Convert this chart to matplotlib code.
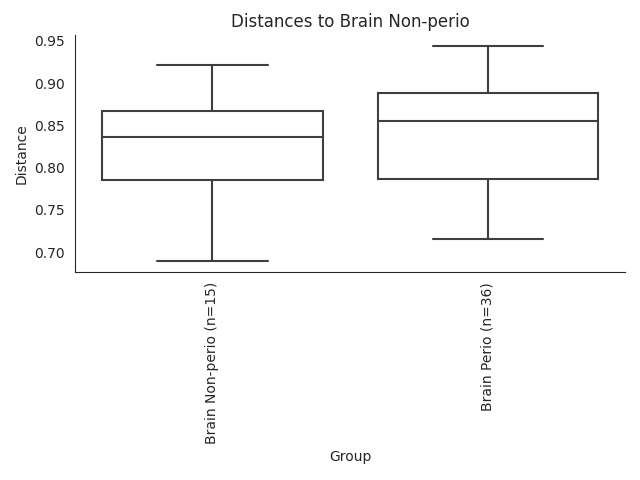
import matplotlib
matplotlib.use("Agg")
import matplotlib.pyplot as plt
import seaborn as sns

# box statistics
groups = ["Brain Non-perio (n=15)", "Brain Perio (n=36)"]
whislo = [0.689, 0.715]
q1 = [0.785, 0.786]
med = [0.836, 0.855]
q3 = [0.867, 0.888]
whishi = [0.921, 0.944]

sns.set_style("white")

fig, ax = plt.subplots(figsize=(6.4, 4.8), dpi=100)

stats = []
for i in range(len(groups)):
    stats.append(dict(label=groups[i], whislo=whislo[i], q1=q1[i], med=med[i],
                      q3=q3[i], whishi=whishi[i], fliers=[]))

line_col = "#3f3f3f"
ax.bxp(stats, positions=range(len(groups)), widths=0.8, patch_artist=True,
       showfliers=False,
       boxprops=dict(facecolor="white", edgecolor=line_col, linewidth=1.5),
       medianprops=dict(color=line_col, linewidth=1.5),
       whiskerprops=dict(color=line_col, linewidth=1.5),
       capprops=dict(color=line_col, linewidth=1.5))

ax.set_xlim(-0.5, 1.5)
ax.set_xticks(range(len(groups)))
ax.set_xticklabels(groups, rotation=90)
ax.set_xlabel("Group")
ax.set_ylabel("Distance")
ax.set_title("Distances to Brain Non-perio")
sns.despine(ax=ax)

fig.subplots_adjust(left=0.117, right=0.977, top=0.927, bottom=0.433)
fig.savefig("out.png", dpi=100)
